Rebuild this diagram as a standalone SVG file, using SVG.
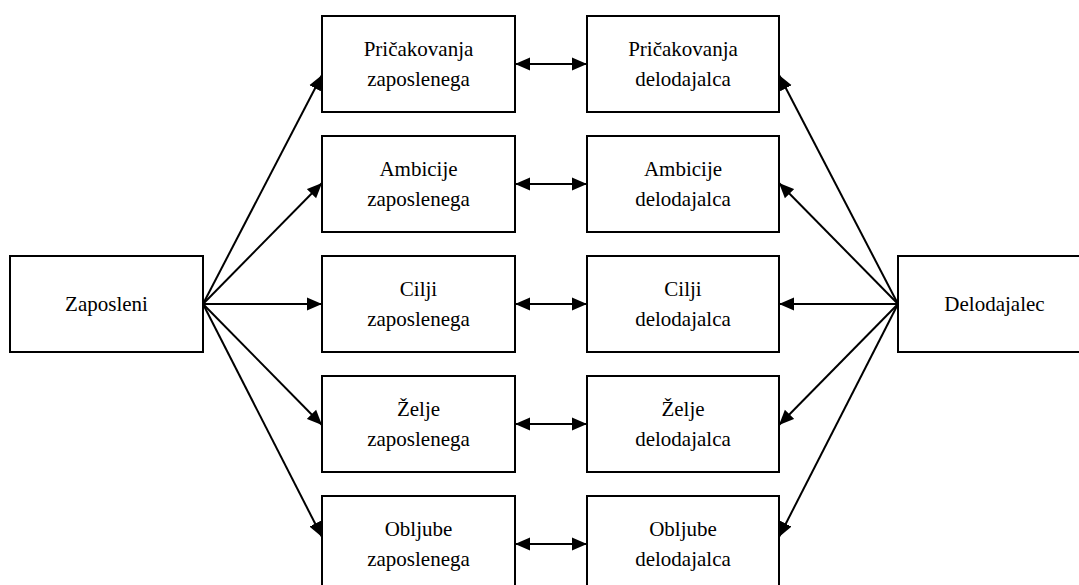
<svg xmlns="http://www.w3.org/2000/svg" width="1079" height="585" viewBox="0 0 1079 585">
<style>
.box{fill:#fff;stroke:#000;stroke-width:2}
.t{font-size:21px;fill:#000;text-anchor:middle}
.c{stroke:#000;stroke-width:2;fill:none}
</style>
<defs>
<marker id="ah" markerUnits="userSpaceOnUse" markerWidth="16" markerHeight="14" refX="15" refY="6.5" orient="auto-start-reverse" viewBox="0 0 16 13">
<path d="M0,0 L15,6.5 L0,13 Z" fill="#000"/>
</marker>
</defs>
<rect width="1079" height="585" fill="#fff"/>
<g id="connectors">
<line class="c" x1="203" y1="304" x2="322" y2="75" marker-end="url(#ah)"/>
<line class="c" x1="203" y1="304" x2="322" y2="183" marker-end="url(#ah)"/>
<line class="c" x1="203" y1="304" x2="322" y2="304" marker-end="url(#ah)"/>
<line class="c" x1="203" y1="304" x2="322" y2="425" marker-end="url(#ah)"/>
<line class="c" x1="203" y1="304" x2="322" y2="537" marker-end="url(#ah)"/>
<line class="c" x1="898" y1="304" x2="779" y2="75" marker-end="url(#ah)"/>
<line class="c" x1="898" y1="304" x2="779" y2="183" marker-end="url(#ah)"/>
<line class="c" x1="898" y1="304" x2="779" y2="304" marker-end="url(#ah)"/>
<line class="c" x1="898" y1="304" x2="779" y2="425" marker-end="url(#ah)"/>
<line class="c" x1="898" y1="304" x2="779" y2="537" marker-end="url(#ah)"/>
<line class="c" x1="515" y1="64" x2="587" y2="64" marker-start="url(#ah)" marker-end="url(#ah)"/>
<line class="c" x1="515" y1="184" x2="587" y2="184" marker-start="url(#ah)" marker-end="url(#ah)"/>
<line class="c" x1="515" y1="304" x2="587" y2="304" marker-start="url(#ah)" marker-end="url(#ah)"/>
<line class="c" x1="515" y1="424" x2="587" y2="424" marker-start="url(#ah)" marker-end="url(#ah)"/>
<line class="c" x1="515" y1="544" x2="587" y2="544" marker-start="url(#ah)" marker-end="url(#ah)"/>
</g>
<g font-family="Liberation Serif, Times New Roman, serif">
<g id="zaposleni"><rect class="box" x="10" y="256" width="193" height="96"/><text class="t" x="106.5" y="311">Zaposleni</text></g>
<g id="delodajalec"><rect class="box" x="898" y="256" width="193" height="96"/><text class="t" x="994.5" y="311">Delodajalec</text></g>
<g id="pricakovanja-zaposlenega"><rect class="box" x="322" y="16" width="193" height="96"/><text class="t" x="418.5" y="56">Pričakovanja</text><text class="t" x="418.5" y="86">zaposlenega</text></g>
<g id="ambicije-zaposlenega"><rect class="box" x="322" y="136" width="193" height="96"/><text class="t" x="418.5" y="176">Ambicije</text><text class="t" x="418.5" y="206">zaposlenega</text></g>
<g id="cilji-zaposlenega"><rect class="box" x="322" y="256" width="193" height="96"/><text class="t" x="418.5" y="296">Cilji</text><text class="t" x="418.5" y="326">zaposlenega</text></g>
<g id="zelje-zaposlenega"><rect class="box" x="322" y="376" width="193" height="96"/><text class="t" x="418.5" y="416">Želje</text><text class="t" x="418.5" y="446">zaposlenega</text></g>
<g id="obljube-zaposlenega"><rect class="box" x="322" y="496" width="193" height="96"/><text class="t" x="418.5" y="536">Obljube</text><text class="t" x="418.5" y="566">zaposlenega</text></g>
<g id="pricakovanja-delodajalca"><rect class="box" x="587" y="16" width="192" height="96"/><text class="t" x="683" y="56">Pričakovanja</text><text class="t" x="683" y="86">delodajalca</text></g>
<g id="ambicije-delodajalca"><rect class="box" x="587" y="136" width="192" height="96"/><text class="t" x="683" y="176">Ambicije</text><text class="t" x="683" y="206">delodajalca</text></g>
<g id="cilji-delodajalca"><rect class="box" x="587" y="256" width="192" height="96"/><text class="t" x="683" y="296">Cilji</text><text class="t" x="683" y="326">delodajalca</text></g>
<g id="zelje-delodajalca"><rect class="box" x="587" y="376" width="192" height="96"/><text class="t" x="683" y="416">Želje</text><text class="t" x="683" y="446">delodajalca</text></g>
<g id="obljube-delodajalca"><rect class="box" x="587" y="496" width="192" height="96"/><text class="t" x="683" y="536">Obljube</text><text class="t" x="683" y="566">delodajalca</text></g>
</g>
</svg>
